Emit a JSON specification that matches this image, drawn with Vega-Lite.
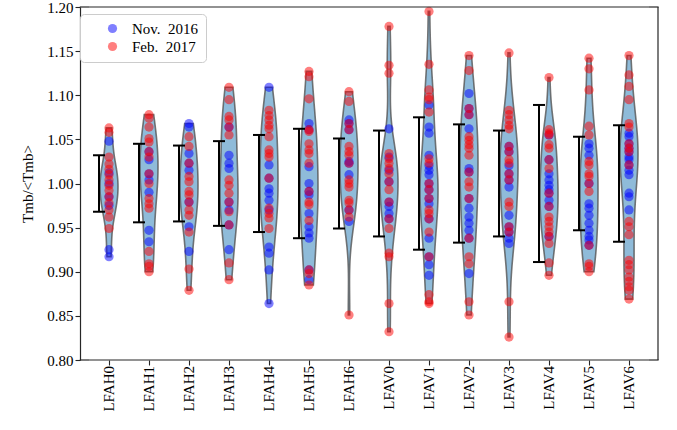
{
  "$schema": "https://vega.github.io/schema/vega-lite/v6.json",
  "padding": {"left": 20, "top": 0, "right": 4, "bottom": 0},
  "config": {
    "font": "Liberation Serif",
    "view": {"stroke": null},
    "axis": {"grid": false, "domainColor": "#262626", "domainWidth": 1.2, "tickColor": "#262626", "tickWidth": 1.1, "tickSize": 5, "labelColor": "#000", "labelFont": "Liberation Serif", "labelFontSize": 15, "titleFont": "Liberation Serif", "titleFontSize": 15, "titleFontWeight": "normal", "titleColor": "#000"},
    "legend": {"orient": "none", "legendX": -9, "legendY": 7, "padding": 7, "symbolOffset": 18, "strokeColor": "#cccccc", "fillColor": "#ffffff", "cornerRadius": 4, "symbolSize": 85, "symbolType": "circle", "labelFont": "Liberation Serif", "labelFontSize": 15, "labelOffset": 12, "rowPadding": 2},
    "header": {"labelFont": "Liberation Serif", "labelFontSize": 15, "labelColor": "#000"}
  },
  "data": {"values": [
    {"c": "LFAH0", "m": "Nov. 2016", "v": 1.048}, {"c": "LFAH0", "m": "Nov. 2016", "v": 1.012}, {"c": "LFAH0", "m": "Nov. 2016", "v": 1.0}, {"c": "LFAH0", "m": "Nov. 2016", "v": 0.985}, {"c": "LFAH0", "m": "Nov. 2016", "v": 0.975}, {"c": "LFAH0", "m": "Nov. 2016", "v": 0.925}, {"c": "LFAH0", "m": "Nov. 2016", "v": 0.917},
    {"c": "LFAH1", "m": "Nov. 2016", "v": 1.036}, {"c": "LFAH1", "m": "Nov. 2016", "v": 1.027}, {"c": "LFAH1", "m": "Nov. 2016", "v": 1.011}, {"c": "LFAH1", "m": "Nov. 2016", "v": 1.004}, {"c": "LFAH1", "m": "Nov. 2016", "v": 0.99}, {"c": "LFAH1", "m": "Nov. 2016", "v": 0.947}, {"c": "LFAH1", "m": "Nov. 2016", "v": 0.934},
    {"c": "LFAH2", "m": "Nov. 2016", "v": 1.068}, {"c": "LFAH2", "m": "Nov. 2016", "v": 1.064}, {"c": "LFAH2", "m": "Nov. 2016", "v": 1.034}, {"c": "LFAH2", "m": "Nov. 2016", "v": 1.023}, {"c": "LFAH2", "m": "Nov. 2016", "v": 1.015}, {"c": "LFAH2", "m": "Nov. 2016", "v": 0.979}, {"c": "LFAH2", "m": "Nov. 2016", "v": 0.951}, {"c": "LFAH2", "m": "Nov. 2016", "v": 0.923},
    {"c": "LFAH3", "m": "Nov. 2016", "v": 1.064}, {"c": "LFAH3", "m": "Nov. 2016", "v": 1.032}, {"c": "LFAH3", "m": "Nov. 2016", "v": 1.023}, {"c": "LFAH3", "m": "Nov. 2016", "v": 1.017}, {"c": "LFAH3", "m": "Nov. 2016", "v": 0.979}, {"c": "LFAH3", "m": "Nov. 2016", "v": 0.97}, {"c": "LFAH3", "m": "Nov. 2016", "v": 0.953}, {"c": "LFAH3", "m": "Nov. 2016", "v": 0.925},
    {"c": "LFAH4", "m": "Nov. 2016", "v": 1.109}, {"c": "LFAH4", "m": "Nov. 2016", "v": 1.021}, {"c": "LFAH4", "m": "Nov. 2016", "v": 1.006}, {"c": "LFAH4", "m": "Nov. 2016", "v": 0.994}, {"c": "LFAH4", "m": "Nov. 2016", "v": 0.989}, {"c": "LFAH4", "m": "Nov. 2016", "v": 0.981}, {"c": "LFAH4", "m": "Nov. 2016", "v": 0.97}, {"c": "LFAH4", "m": "Nov. 2016", "v": 0.928}, {"c": "LFAH4", "m": "Nov. 2016", "v": 0.921}, {"c": "LFAH4", "m": "Nov. 2016", "v": 0.902}, {"c": "LFAH4", "m": "Nov. 2016", "v": 0.864},
    {"c": "LFAH5", "m": "Nov. 2016", "v": 1.068}, {"c": "LFAH5", "m": "Nov. 2016", "v": 1.061}, {"c": "LFAH5", "m": "Nov. 2016", "v": 1.019}, {"c": "LFAH5", "m": "Nov. 2016", "v": 1.0}, {"c": "LFAH5", "m": "Nov. 2016", "v": 0.991}, {"c": "LFAH5", "m": "Nov. 2016", "v": 0.987}, {"c": "LFAH5", "m": "Nov. 2016", "v": 0.966}, {"c": "LFAH5", "m": "Nov. 2016", "v": 0.951}, {"c": "LFAH5", "m": "Nov. 2016", "v": 0.944}, {"c": "LFAH5", "m": "Nov. 2016", "v": 0.938}, {"c": "LFAH5", "m": "Nov. 2016", "v": 0.902}, {"c": "LFAH5", "m": "Nov. 2016", "v": 0.891},
    {"c": "LFAH6", "m": "Nov. 2016", "v": 1.072}, {"c": "LFAH6", "m": "Nov. 2016", "v": 1.068}, {"c": "LFAH6", "m": "Nov. 2016", "v": 1.061}, {"c": "LFAH6", "m": "Nov. 2016", "v": 1.025}, {"c": "LFAH6", "m": "Nov. 2016", "v": 1.023}, {"c": "LFAH6", "m": "Nov. 2016", "v": 1.01}, {"c": "LFAH6", "m": "Nov. 2016", "v": 0.97}, {"c": "LFAH6", "m": "Nov. 2016", "v": 0.957},
    {"c": "LFAV0", "m": "Nov. 2016", "v": 1.062}, {"c": "LFAV0", "m": "Nov. 2016", "v": 1.03}, {"c": "LFAV0", "m": "Nov. 2016", "v": 1.015}, {"c": "LFAV0", "m": "Nov. 2016", "v": 1.002}, {"c": "LFAV0", "m": "Nov. 2016", "v": 0.979}, {"c": "LFAV0", "m": "Nov. 2016", "v": 0.974}, {"c": "LFAV0", "m": "Nov. 2016", "v": 0.966}, {"c": "LFAV0", "m": "Nov. 2016", "v": 0.96},
    {"c": "LFAV1", "m": "Nov. 2016", "v": 1.089}, {"c": "LFAV1", "m": "Nov. 2016", "v": 1.064}, {"c": "LFAV1", "m": "Nov. 2016", "v": 1.057}, {"c": "LFAV1", "m": "Nov. 2016", "v": 1.032}, {"c": "LFAV1", "m": "Nov. 2016", "v": 1.02}, {"c": "LFAV1", "m": "Nov. 2016", "v": 1.015}, {"c": "LFAV1", "m": "Nov. 2016", "v": 1.01}, {"c": "LFAV1", "m": "Nov. 2016", "v": 1.0}, {"c": "LFAV1", "m": "Nov. 2016", "v": 0.993}, {"c": "LFAV1", "m": "Nov. 2016", "v": 0.983}, {"c": "LFAV1", "m": "Nov. 2016", "v": 0.977}, {"c": "LFAV1", "m": "Nov. 2016", "v": 0.96}, {"c": "LFAV1", "m": "Nov. 2016", "v": 0.938}, {"c": "LFAV1", "m": "Nov. 2016", "v": 0.917}, {"c": "LFAV1", "m": "Nov. 2016", "v": 0.908}, {"c": "LFAV1", "m": "Nov. 2016", "v": 0.896},
    {"c": "LFAV2", "m": "Nov. 2016", "v": 1.102}, {"c": "LFAV2", "m": "Nov. 2016", "v": 1.085}, {"c": "LFAV2", "m": "Nov. 2016", "v": 1.078}, {"c": "LFAV2", "m": "Nov. 2016", "v": 1.062}, {"c": "LFAV2", "m": "Nov. 2016", "v": 1.017}, {"c": "LFAV2", "m": "Nov. 2016", "v": 1.013}, {"c": "LFAV2", "m": "Nov. 2016", "v": 0.983}, {"c": "LFAV2", "m": "Nov. 2016", "v": 0.972}, {"c": "LFAV2", "m": "Nov. 2016", "v": 0.962}, {"c": "LFAV2", "m": "Nov. 2016", "v": 0.955}, {"c": "LFAV2", "m": "Nov. 2016", "v": 0.947}, {"c": "LFAV2", "m": "Nov. 2016", "v": 0.938}, {"c": "LFAV2", "m": "Nov. 2016", "v": 0.898},
    {"c": "LFAV3", "m": "Nov. 2016", "v": 1.042}, {"c": "LFAV3", "m": "Nov. 2016", "v": 1.036}, {"c": "LFAV3", "m": "Nov. 2016", "v": 1.02}, {"c": "LFAV3", "m": "Nov. 2016", "v": 1.011}, {"c": "LFAV3", "m": "Nov. 2016", "v": 1.004}, {"c": "LFAV3", "m": "Nov. 2016", "v": 0.996}, {"c": "LFAV3", "m": "Nov. 2016", "v": 0.964}, {"c": "LFAV3", "m": "Nov. 2016", "v": 0.951}, {"c": "LFAV3", "m": "Nov. 2016", "v": 0.945}, {"c": "LFAV3", "m": "Nov. 2016", "v": 0.938}, {"c": "LFAV3", "m": "Nov. 2016", "v": 0.932},
    {"c": "LFAV4", "m": "Nov. 2016", "v": 1.055}, {"c": "LFAV4", "m": "Nov. 2016", "v": 1.027}, {"c": "LFAV4", "m": "Nov. 2016", "v": 1.011}, {"c": "LFAV4", "m": "Nov. 2016", "v": 1.004}, {"c": "LFAV4", "m": "Nov. 2016", "v": 0.998}, {"c": "LFAV4", "m": "Nov. 2016", "v": 0.993}, {"c": "LFAV4", "m": "Nov. 2016", "v": 0.989}, {"c": "LFAV4", "m": "Nov. 2016", "v": 0.981}, {"c": "LFAV4", "m": "Nov. 2016", "v": 0.974}, {"c": "LFAV4", "m": "Nov. 2016", "v": 0.94},
    {"c": "LFAV5", "m": "Nov. 2016", "v": 1.045}, {"c": "LFAV5", "m": "Nov. 2016", "v": 1.04}, {"c": "LFAV5", "m": "Nov. 2016", "v": 1.032}, {"c": "LFAV5", "m": "Nov. 2016", "v": 1.0}, {"c": "LFAV5", "m": "Nov. 2016", "v": 0.977}, {"c": "LFAV5", "m": "Nov. 2016", "v": 0.972}, {"c": "LFAV5", "m": "Nov. 2016", "v": 0.964}, {"c": "LFAV5", "m": "Nov. 2016", "v": 0.955}, {"c": "LFAV5", "m": "Nov. 2016", "v": 0.947}, {"c": "LFAV5", "m": "Nov. 2016", "v": 0.94}, {"c": "LFAV5", "m": "Nov. 2016", "v": 0.936}, {"c": "LFAV5", "m": "Nov. 2016", "v": 0.93},
    {"c": "LFAV6", "m": "Nov. 2016", "v": 1.057}, {"c": "LFAV6", "m": "Nov. 2016", "v": 1.053}, {"c": "LFAV6", "m": "Nov. 2016", "v": 1.045}, {"c": "LFAV6", "m": "Nov. 2016", "v": 1.04}, {"c": "LFAV6", "m": "Nov. 2016", "v": 1.036}, {"c": "LFAV6", "m": "Nov. 2016", "v": 1.03}, {"c": "LFAV6", "m": "Nov. 2016", "v": 1.027}, {"c": "LFAV6", "m": "Nov. 2016", "v": 1.021}, {"c": "LFAV6", "m": "Nov. 2016", "v": 1.015}, {"c": "LFAV6", "m": "Nov. 2016", "v": 1.01}, {"c": "LFAV6", "m": "Nov. 2016", "v": 0.989}, {"c": "LFAV6", "m": "Nov. 2016", "v": 0.985}, {"c": "LFAV6", "m": "Nov. 2016", "v": 0.97},
    {"c": "LFAH0", "m": "Feb. 2017", "v": 1.063}, {"c": "LFAH0", "m": "Feb. 2017", "v": 1.058}, {"c": "LFAH0", "m": "Feb. 2017", "v": 1.03}, {"c": "LFAH0", "m": "Feb. 2017", "v": 1.022}, {"c": "LFAH0", "m": "Feb. 2017", "v": 1.016}, {"c": "LFAH0", "m": "Feb. 2017", "v": 1.01}, {"c": "LFAH0", "m": "Feb. 2017", "v": 1.004}, {"c": "LFAH0", "m": "Feb. 2017", "v": 0.998}, {"c": "LFAH0", "m": "Feb. 2017", "v": 0.992}, {"c": "LFAH0", "m": "Feb. 2017", "v": 0.985}, {"c": "LFAH0", "m": "Feb. 2017", "v": 0.978}, {"c": "LFAH0", "m": "Feb. 2017", "v": 0.97}, {"c": "LFAH0", "m": "Feb. 2017", "v": 0.962}, {"c": "LFAH0", "m": "Feb. 2017", "v": 0.949},
    {"c": "LFAH1", "m": "Feb. 2017", "v": 1.078}, {"c": "LFAH1", "m": "Feb. 2017", "v": 1.074}, {"c": "LFAH1", "m": "Feb. 2017", "v": 1.064}, {"c": "LFAH1", "m": "Feb. 2017", "v": 1.051}, {"c": "LFAH1", "m": "Feb. 2017", "v": 1.047}, {"c": "LFAH1", "m": "Feb. 2017", "v": 1.036}, {"c": "LFAH1", "m": "Feb. 2017", "v": 1.03}, {"c": "LFAH1", "m": "Feb. 2017", "v": 1.011}, {"c": "LFAH1", "m": "Feb. 2017", "v": 1.0}, {"c": "LFAH1", "m": "Feb. 2017", "v": 0.983}, {"c": "LFAH1", "m": "Feb. 2017", "v": 0.977}, {"c": "LFAH1", "m": "Feb. 2017", "v": 0.972}, {"c": "LFAH1", "m": "Feb. 2017", "v": 0.923}, {"c": "LFAH1", "m": "Feb. 2017", "v": 0.909}, {"c": "LFAH1", "m": "Feb. 2017", "v": 0.906}, {"c": "LFAH1", "m": "Feb. 2017", "v": 0.9},
    {"c": "LFAH2", "m": "Feb. 2017", "v": 1.053}, {"c": "LFAH2", "m": "Feb. 2017", "v": 1.042}, {"c": "LFAH2", "m": "Feb. 2017", "v": 1.023}, {"c": "LFAH2", "m": "Feb. 2017", "v": 1.008}, {"c": "LFAH2", "m": "Feb. 2017", "v": 1.002}, {"c": "LFAH2", "m": "Feb. 2017", "v": 0.991}, {"c": "LFAH2", "m": "Feb. 2017", "v": 0.987}, {"c": "LFAH2", "m": "Feb. 2017", "v": 0.979}, {"c": "LFAH2", "m": "Feb. 2017", "v": 0.97}, {"c": "LFAH2", "m": "Feb. 2017", "v": 0.964}, {"c": "LFAH2", "m": "Feb. 2017", "v": 0.945}, {"c": "LFAH2", "m": "Feb. 2017", "v": 0.903}, {"c": "LFAH2", "m": "Feb. 2017", "v": 0.879},
    {"c": "LFAH3", "m": "Feb. 2017", "v": 1.109}, {"c": "LFAH3", "m": "Feb. 2017", "v": 1.095}, {"c": "LFAH3", "m": "Feb. 2017", "v": 1.076}, {"c": "LFAH3", "m": "Feb. 2017", "v": 1.072}, {"c": "LFAH3", "m": "Feb. 2017", "v": 1.064}, {"c": "LFAH3", "m": "Feb. 2017", "v": 1.055}, {"c": "LFAH3", "m": "Feb. 2017", "v": 1.004}, {"c": "LFAH3", "m": "Feb. 2017", "v": 0.998}, {"c": "LFAH3", "m": "Feb. 2017", "v": 0.989}, {"c": "LFAH3", "m": "Feb. 2017", "v": 0.979}, {"c": "LFAH3", "m": "Feb. 2017", "v": 0.968}, {"c": "LFAH3", "m": "Feb. 2017", "v": 0.953}, {"c": "LFAH3", "m": "Feb. 2017", "v": 0.91}, {"c": "LFAH3", "m": "Feb. 2017", "v": 0.891},
    {"c": "LFAH4", "m": "Feb. 2017", "v": 1.083}, {"c": "LFAH4", "m": "Feb. 2017", "v": 1.077}, {"c": "LFAH4", "m": "Feb. 2017", "v": 1.072}, {"c": "LFAH4", "m": "Feb. 2017", "v": 1.066}, {"c": "LFAH4", "m": "Feb. 2017", "v": 1.062}, {"c": "LFAH4", "m": "Feb. 2017", "v": 1.053}, {"c": "LFAH4", "m": "Feb. 2017", "v": 1.038}, {"c": "LFAH4", "m": "Feb. 2017", "v": 1.034}, {"c": "LFAH4", "m": "Feb. 2017", "v": 1.03}, {"c": "LFAH4", "m": "Feb. 2017", "v": 1.006}, {"c": "LFAH4", "m": "Feb. 2017", "v": 0.972}, {"c": "LFAH4", "m": "Feb. 2017", "v": 0.966}, {"c": "LFAH4", "m": "Feb. 2017", "v": 0.961}, {"c": "LFAH4", "m": "Feb. 2017", "v": 0.949},
    {"c": "LFAH5", "m": "Feb. 2017", "v": 1.127}, {"c": "LFAH5", "m": "Feb. 2017", "v": 1.121}, {"c": "LFAH5", "m": "Feb. 2017", "v": 1.096}, {"c": "LFAH5", "m": "Feb. 2017", "v": 1.061}, {"c": "LFAH5", "m": "Feb. 2017", "v": 1.059}, {"c": "LFAH5", "m": "Feb. 2017", "v": 1.045}, {"c": "LFAH5", "m": "Feb. 2017", "v": 1.038}, {"c": "LFAH5", "m": "Feb. 2017", "v": 1.034}, {"c": "LFAH5", "m": "Feb. 2017", "v": 1.023}, {"c": "LFAH5", "m": "Feb. 2017", "v": 0.991}, {"c": "LFAH5", "m": "Feb. 2017", "v": 0.979}, {"c": "LFAH5", "m": "Feb. 2017", "v": 0.976}, {"c": "LFAH5", "m": "Feb. 2017", "v": 0.958}, {"c": "LFAH5", "m": "Feb. 2017", "v": 0.902}, {"c": "LFAH5", "m": "Feb. 2017", "v": 0.898}, {"c": "LFAH5", "m": "Feb. 2017", "v": 0.885},
    {"c": "LFAH6", "m": "Feb. 2017", "v": 1.104}, {"c": "LFAH6", "m": "Feb. 2017", "v": 1.093}, {"c": "LFAH6", "m": "Feb. 2017", "v": 1.068}, {"c": "LFAH6", "m": "Feb. 2017", "v": 1.061}, {"c": "LFAH6", "m": "Feb. 2017", "v": 1.042}, {"c": "LFAH6", "m": "Feb. 2017", "v": 1.036}, {"c": "LFAH6", "m": "Feb. 2017", "v": 1.032}, {"c": "LFAH6", "m": "Feb. 2017", "v": 1.023}, {"c": "LFAH6", "m": "Feb. 2017", "v": 1.004}, {"c": "LFAH6", "m": "Feb. 2017", "v": 1.0}, {"c": "LFAH6", "m": "Feb. 2017", "v": 0.996}, {"c": "LFAH6", "m": "Feb. 2017", "v": 0.981}, {"c": "LFAH6", "m": "Feb. 2017", "v": 0.978}, {"c": "LFAH6", "m": "Feb. 2017", "v": 0.97}, {"c": "LFAH6", "m": "Feb. 2017", "v": 0.962}, {"c": "LFAH6", "m": "Feb. 2017", "v": 0.851},
    {"c": "LFAV0", "m": "Feb. 2017", "v": 1.178}, {"c": "LFAV0", "m": "Feb. 2017", "v": 1.134}, {"c": "LFAV0", "m": "Feb. 2017", "v": 1.125}, {"c": "LFAV0", "m": "Feb. 2017", "v": 1.034}, {"c": "LFAV0", "m": "Feb. 2017", "v": 1.028}, {"c": "LFAV0", "m": "Feb. 2017", "v": 1.023}, {"c": "LFAV0", "m": "Feb. 2017", "v": 1.017}, {"c": "LFAV0", "m": "Feb. 2017", "v": 1.011}, {"c": "LFAV0", "m": "Feb. 2017", "v": 1.002}, {"c": "LFAV0", "m": "Feb. 2017", "v": 0.993}, {"c": "LFAV0", "m": "Feb. 2017", "v": 0.979}, {"c": "LFAV0", "m": "Feb. 2017", "v": 0.96}, {"c": "LFAV0", "m": "Feb. 2017", "v": 0.949}, {"c": "LFAV0", "m": "Feb. 2017", "v": 0.921}, {"c": "LFAV0", "m": "Feb. 2017", "v": 0.917}, {"c": "LFAV0", "m": "Feb. 2017", "v": 0.864}, {"c": "LFAV0", "m": "Feb. 2017", "v": 0.832},
    {"c": "LFAV1", "m": "Feb. 2017", "v": 1.195}, {"c": "LFAV1", "m": "Feb. 2017", "v": 1.135}, {"c": "LFAV1", "m": "Feb. 2017", "v": 1.106}, {"c": "LFAV1", "m": "Feb. 2017", "v": 1.098}, {"c": "LFAV1", "m": "Feb. 2017", "v": 1.095}, {"c": "LFAV1", "m": "Feb. 2017", "v": 1.081}, {"c": "LFAV1", "m": "Feb. 2017", "v": 1.028}, {"c": "LFAV1", "m": "Feb. 2017", "v": 1.023}, {"c": "LFAV1", "m": "Feb. 2017", "v": 1.0}, {"c": "LFAV1", "m": "Feb. 2017", "v": 0.993}, {"c": "LFAV1", "m": "Feb. 2017", "v": 0.983}, {"c": "LFAV1", "m": "Feb. 2017", "v": 0.97}, {"c": "LFAV1", "m": "Feb. 2017", "v": 0.966}, {"c": "LFAV1", "m": "Feb. 2017", "v": 0.96}, {"c": "LFAV1", "m": "Feb. 2017", "v": 0.945}, {"c": "LFAV1", "m": "Feb. 2017", "v": 0.917}, {"c": "LFAV1", "m": "Feb. 2017", "v": 0.874}, {"c": "LFAV1", "m": "Feb. 2017", "v": 0.866}, {"c": "LFAV1", "m": "Feb. 2017", "v": 0.864},
    {"c": "LFAV2", "m": "Feb. 2017", "v": 1.145}, {"c": "LFAV2", "m": "Feb. 2017", "v": 1.128}, {"c": "LFAV2", "m": "Feb. 2017", "v": 1.085}, {"c": "LFAV2", "m": "Feb. 2017", "v": 1.078}, {"c": "LFAV2", "m": "Feb. 2017", "v": 1.053}, {"c": "LFAV2", "m": "Feb. 2017", "v": 1.049}, {"c": "LFAV2", "m": "Feb. 2017", "v": 1.044}, {"c": "LFAV2", "m": "Feb. 2017", "v": 1.04}, {"c": "LFAV2", "m": "Feb. 2017", "v": 1.032}, {"c": "LFAV2", "m": "Feb. 2017", "v": 1.013}, {"c": "LFAV2", "m": "Feb. 2017", "v": 1.002}, {"c": "LFAV2", "m": "Feb. 2017", "v": 0.996}, {"c": "LFAV2", "m": "Feb. 2017", "v": 0.983}, {"c": "LFAV2", "m": "Feb. 2017", "v": 0.938}, {"c": "LFAV2", "m": "Feb. 2017", "v": 0.917}, {"c": "LFAV2", "m": "Feb. 2017", "v": 0.909}, {"c": "LFAV2", "m": "Feb. 2017", "v": 0.866}, {"c": "LFAV2", "m": "Feb. 2017", "v": 0.851},
    {"c": "LFAV3", "m": "Feb. 2017", "v": 1.148}, {"c": "LFAV3", "m": "Feb. 2017", "v": 1.083}, {"c": "LFAV3", "m": "Feb. 2017", "v": 1.078}, {"c": "LFAV3", "m": "Feb. 2017", "v": 1.072}, {"c": "LFAV3", "m": "Feb. 2017", "v": 1.066}, {"c": "LFAV3", "m": "Feb. 2017", "v": 1.062}, {"c": "LFAV3", "m": "Feb. 2017", "v": 1.042}, {"c": "LFAV3", "m": "Feb. 2017", "v": 1.036}, {"c": "LFAV3", "m": "Feb. 2017", "v": 1.027}, {"c": "LFAV3", "m": "Feb. 2017", "v": 1.023}, {"c": "LFAV3", "m": "Feb. 2017", "v": 1.011}, {"c": "LFAV3", "m": "Feb. 2017", "v": 1.004}, {"c": "LFAV3", "m": "Feb. 2017", "v": 0.979}, {"c": "LFAV3", "m": "Feb. 2017", "v": 0.974}, {"c": "LFAV3", "m": "Feb. 2017", "v": 0.951}, {"c": "LFAV3", "m": "Feb. 2017", "v": 0.945}, {"c": "LFAV3", "m": "Feb. 2017", "v": 0.866}, {"c": "LFAV3", "m": "Feb. 2017", "v": 0.826},
    {"c": "LFAV4", "m": "Feb. 2017", "v": 1.12}, {"c": "LFAV4", "m": "Feb. 2017", "v": 1.061}, {"c": "LFAV4", "m": "Feb. 2017", "v": 1.057}, {"c": "LFAV4", "m": "Feb. 2017", "v": 1.055}, {"c": "LFAV4", "m": "Feb. 2017", "v": 1.044}, {"c": "LFAV4", "m": "Feb. 2017", "v": 1.04}, {"c": "LFAV4", "m": "Feb. 2017", "v": 1.027}, {"c": "LFAV4", "m": "Feb. 2017", "v": 1.017}, {"c": "LFAV4", "m": "Feb. 2017", "v": 0.989}, {"c": "LFAV4", "m": "Feb. 2017", "v": 0.974}, {"c": "LFAV4", "m": "Feb. 2017", "v": 0.962}, {"c": "LFAV4", "m": "Feb. 2017", "v": 0.957}, {"c": "LFAV4", "m": "Feb. 2017", "v": 0.951}, {"c": "LFAV4", "m": "Feb. 2017", "v": 0.945}, {"c": "LFAV4", "m": "Feb. 2017", "v": 0.94}, {"c": "LFAV4", "m": "Feb. 2017", "v": 0.932}, {"c": "LFAV4", "m": "Feb. 2017", "v": 0.91}, {"c": "LFAV4", "m": "Feb. 2017", "v": 0.896},
    {"c": "LFAV5", "m": "Feb. 2017", "v": 1.142}, {"c": "LFAV5", "m": "Feb. 2017", "v": 1.13}, {"c": "LFAV5", "m": "Feb. 2017", "v": 1.106}, {"c": "LFAV5", "m": "Feb. 2017", "v": 1.065}, {"c": "LFAV5", "m": "Feb. 2017", "v": 1.055}, {"c": "LFAV5", "m": "Feb. 2017", "v": 1.025}, {"c": "LFAV5", "m": "Feb. 2017", "v": 1.021}, {"c": "LFAV5", "m": "Feb. 2017", "v": 1.011}, {"c": "LFAV5", "m": "Feb. 2017", "v": 1.008}, {"c": "LFAV5", "m": "Feb. 2017", "v": 1.0}, {"c": "LFAV5", "m": "Feb. 2017", "v": 0.991}, {"c": "LFAV5", "m": "Feb. 2017", "v": 0.93}, {"c": "LFAV5", "m": "Feb. 2017", "v": 0.909}, {"c": "LFAV5", "m": "Feb. 2017", "v": 0.906}, {"c": "LFAV5", "m": "Feb. 2017", "v": 0.9},
    {"c": "LFAV6", "m": "Feb. 2017", "v": 1.145}, {"c": "LFAV6", "m": "Feb. 2017", "v": 1.123}, {"c": "LFAV6", "m": "Feb. 2017", "v": 1.11}, {"c": "LFAV6", "m": "Feb. 2017", "v": 1.095}, {"c": "LFAV6", "m": "Feb. 2017", "v": 1.068}, {"c": "LFAV6", "m": "Feb. 2017", "v": 1.064}, {"c": "LFAV6", "m": "Feb. 2017", "v": 1.045}, {"c": "LFAV6", "m": "Feb. 2017", "v": 1.04}, {"c": "LFAV6", "m": "Feb. 2017", "v": 1.036}, {"c": "LFAV6", "m": "Feb. 2017", "v": 1.021}, {"c": "LFAV6", "m": "Feb. 2017", "v": 0.957}, {"c": "LFAV6", "m": "Feb. 2017", "v": 0.951}, {"c": "LFAV6", "m": "Feb. 2017", "v": 0.942}, {"c": "LFAV6", "m": "Feb. 2017", "v": 0.913}, {"c": "LFAV6", "m": "Feb. 2017", "v": 0.908}, {"c": "LFAV6", "m": "Feb. 2017", "v": 0.902}, {"c": "LFAV6", "m": "Feb. 2017", "v": 0.894}, {"c": "LFAV6", "m": "Feb. 2017", "v": 0.889}, {"c": "LFAV6", "m": "Feb. 2017", "v": 0.883}, {"c": "LFAV6", "m": "Feb. 2017", "v": 0.879}, {"c": "LFAV6", "m": "Feb. 2017", "v": 0.869},
    {"c": "LFAH0", "lo": 0.968, "hi": 1.032}, {"c": "LFAH1", "lo": 0.956, "hi": 1.045}, {"c": "LFAH2", "lo": 0.957, "hi": 1.043}, {"c": "LFAH3", "lo": 0.952, "hi": 1.048}, {"c": "LFAH4", "lo": 0.945, "hi": 1.055}, {"c": "LFAH5", "lo": 0.938, "hi": 1.062}, {"c": "LFAH6", "lo": 0.949, "hi": 1.051},
    {"c": "LFAV0", "lo": 0.94, "hi": 1.06}, {"c": "LFAV1", "lo": 0.925, "hi": 1.075}, {"c": "LFAV2", "lo": 0.933, "hi": 1.067}, {"c": "LFAV3", "lo": 0.94, "hi": 1.06}, {"c": "LFAV4", "lo": 0.911, "hi": 1.089}, {"c": "LFAV5", "lo": 0.947, "hi": 1.053}, {"c": "LFAV6", "lo": 0.934, "hi": 1.066}
  ]},
  "facet": {
    "column": {"field": "c", "type": "nominal", "title": null, "sort": "ascending",
      "header": {"labelOrient": "bottom", "labelAngle": -90, "labelAlign": "right", "labelBaseline": "middle", "labelPadding": 6}}
  },
  "spacing": 0,
  "bounds": "flush",
  "resolve": {"scale": {"x": "independent"}},
  "spec": {
    "width": 40,
    "height": 353,
    "resolve": {"scale": {"x": "independent"}},
    "layer": [
      {
        "transform": [
          {"filter": "isValid(datum.v)"},
          {"density": "v", "groupby": ["c"], "as": ["v", "density"]}
        ],
        "mark": {"type": "area", "orient": "horizontal", "fill": "#1f77b4", "fillOpacity": 0.5, "stroke": "#555555", "strokeOpacity": 0.8, "strokeWidth": 1.6},
        "encoding": {
          "y": {"field": "v", "type": "quantitative", "title": "Tmb/<Tmb>", "scale": {"domain": [0.8, 1.2], "nice": false, "zero": false},
            "axis": {"values": [0.8, 0.85, 0.9, 0.95, 1.0, 1.05, 1.1, 1.15, 1.2], "format": ".2f", "titlePadding": 11, "offset": 9}},
          "x": {"field": "density", "type": "quantitative", "stack": "center", "scale": {"zero": false, "nice": false, "padding": 11}, "axis": null}
        }
      },
      {
        "transform": [{"filter": "isValid(datum.v)"}],
        "mark": {"type": "circle", "size": 85, "opacity": 0.5},
        "encoding": {
          "y": {"field": "v", "type": "quantitative", "title": "Tmb/<Tmb>", "scale": {"domain": [0.8, 1.2], "nice": false, "zero": false},
            "axis": {"values": [0.8, 0.85, 0.9, 0.95, 1.0, 1.05, 1.1, 1.15, 1.2], "format": ".2f", "titlePadding": 11, "offset": 9}},
          "x": {"datum": 0, "type": "quantitative", "scale": {"domain": [-0.5, 0.5], "nice": false, "zero": false},
            "axis": {"orient": "bottom", "values": [0], "labels": false, "title": null, "domain": false, "ticks": true}},
          "color": {"field": "m", "type": "nominal", "scale": {"domain": ["Nov. 2016", "Feb. 2017"], "range": ["#0000ff", "#ff0000"]},
            "legend": {"title": null, "labelExpr": "replace(datum.label, '. ', '.\u00a0 ')"}}
        }
      },
      {
        "transform": [{"filter": "isValid(datum.lo)"}],
        "mark": {"type": "rule", "color": "#000000", "strokeWidth": 2},
        "encoding": {
          "x": {"datum": -0.25, "type": "quantitative", "scale": {"domain": [-0.5, 0.5], "nice": false, "zero": false}, "axis": null},
          "y": {"field": "lo", "type": "quantitative", "title": "Tmb/<Tmb>", "scale": {"domain": [0.8, 1.2], "nice": false, "zero": false},
            "axis": {"values": [0.8, 0.85, 0.9, 0.95, 1.0, 1.05, 1.1, 1.15, 1.2], "format": ".2f", "titlePadding": 11, "offset": 9}},
          "y2": {"field": "hi"}
        }
      },
      {
        "transform": [{"filter": "isValid(datum.lo)"}],
        "mark": {"type": "tick", "orient": "horizontal", "color": "#000000", "size": 12, "thickness": 2, "opacity": 1},
        "encoding": {
          "x": {"datum": -0.25, "type": "quantitative", "scale": {"domain": [-0.5, 0.5], "nice": false, "zero": false}, "axis": null},
          "y": {"field": "lo", "type": "quantitative", "title": "Tmb/<Tmb>", "scale": {"domain": [0.8, 1.2], "nice": false, "zero": false},
            "axis": {"values": [0.8, 0.85, 0.9, 0.95, 1.0, 1.05, 1.1, 1.15, 1.2], "format": ".2f", "titlePadding": 11, "offset": 9}}
        }
      },
      {
        "transform": [{"filter": "isValid(datum.hi)"}],
        "mark": {"type": "tick", "orient": "horizontal", "color": "#000000", "size": 12, "thickness": 2, "opacity": 1},
        "encoding": {
          "x": {"datum": -0.25, "type": "quantitative", "scale": {"domain": [-0.5, 0.5], "nice": false, "zero": false}, "axis": null},
          "y": {"field": "hi", "type": "quantitative", "title": "Tmb/<Tmb>", "scale": {"domain": [0.8, 1.2], "nice": false, "zero": false},
            "axis": {"values": [0.8, 0.85, 0.9, 0.95, 1.0, 1.05, 1.1, 1.15, 1.2], "format": ".2f", "titlePadding": 11, "offset": 9}}
        }
      },
      {
        "transform": [{"filter": "isValid(datum.lo)"}],
        "mark": {"type": "rule", "color": "#262626", "strokeWidth": 1.2},
        "encoding": {
          "x": {"datum": -0.5, "type": "quantitative", "scale": {"domain": [-0.5, 0.5], "nice": false, "zero": false}, "axis": null},
          "x2": {"datum": 0.5},
          "y": {"datum": 1.2, "type": "quantitative", "title": "Tmb/<Tmb>", "scale": {"domain": [0.8, 1.2], "nice": false, "zero": false},
            "axis": {"values": [0.8, 0.85, 0.9, 0.95, 1.0, 1.05, 1.1, 1.15, 1.2], "format": ".2f", "titlePadding": 11, "offset": 9}}
        }
      },
      {
        "transform": [{"filter": "isValid(datum.lo)"}],
        "mark": {"type": "rule", "color": "#262626", "strokeWidth": 1.2},
        "encoding": {
          "x": {"datum": -0.5, "type": "quantitative", "scale": {"domain": [-0.5, 0.5], "nice": false, "zero": false}, "axis": null},
          "x2": {"datum": 0.5},
          "y": {"datum": 0.8, "type": "quantitative", "title": "Tmb/<Tmb>", "scale": {"domain": [0.8, 1.2], "nice": false, "zero": false},
            "axis": {"values": [0.8, 0.85, 0.9, 0.95, 1.0, 1.05, 1.1, 1.15, 1.2], "format": ".2f", "titlePadding": 11, "offset": 9}}
        }
      },
      {
        "transform": [{"filter": "datum.c === 'LFAH0' && isValid(datum.lo)"}],
        "mark": {"type": "rule", "color": "#262626", "strokeWidth": 1.2},
        "encoding": {
          "x": {"datum": -0.73, "type": "quantitative", "scale": {"domain": [-0.5, 0.5], "nice": false, "zero": false}, "axis": null},
          "x2": {"datum": -0.5},
          "y": {"datum": 1.2, "type": "quantitative", "title": "Tmb/<Tmb>", "scale": {"domain": [0.8, 1.2], "nice": false, "zero": false},
            "axis": {"values": [0.8, 0.85, 0.9, 0.95, 1.0, 1.05, 1.1, 1.15, 1.2], "format": ".2f", "titlePadding": 11, "offset": 9}}
        }
      },
      {
        "transform": [{"filter": "datum.c === 'LFAH0' && isValid(datum.lo)"}],
        "mark": {"type": "rule", "color": "#262626", "strokeWidth": 1.2},
        "encoding": {
          "x": {"datum": -0.73, "type": "quantitative", "scale": {"domain": [-0.5, 0.5], "nice": false, "zero": false}, "axis": null},
          "x2": {"datum": -0.5},
          "y": {"datum": 0.8, "type": "quantitative", "title": "Tmb/<Tmb>", "scale": {"domain": [0.8, 1.2], "nice": false, "zero": false},
            "axis": {"values": [0.8, 0.85, 0.9, 0.95, 1.0, 1.05, 1.1, 1.15, 1.2], "format": ".2f", "titlePadding": 11, "offset": 9}}
        }
      },
      {
        "transform": [{"filter": "datum.c === 'LFAV6' && isValid(datum.lo)"}],
        "mark": {"type": "rule", "color": "#262626", "strokeWidth": 1.2},
        "encoding": {
          "x": {"datum": 0.5, "type": "quantitative", "scale": {"domain": [-0.5, 0.5], "nice": false, "zero": false}, "axis": null},
          "x2": {"datum": 0.74},
          "y": {"datum": 1.2, "type": "quantitative", "title": "Tmb/<Tmb>", "scale": {"domain": [0.8, 1.2], "nice": false, "zero": false},
            "axis": {"values": [0.8, 0.85, 0.9, 0.95, 1.0, 1.05, 1.1, 1.15, 1.2], "format": ".2f", "titlePadding": 11, "offset": 9}}
        }
      },
      {
        "transform": [{"filter": "datum.c === 'LFAV6' && isValid(datum.lo)"}],
        "mark": {"type": "rule", "color": "#262626", "strokeWidth": 1.2},
        "encoding": {
          "x": {"datum": 0.5, "type": "quantitative", "scale": {"domain": [-0.5, 0.5], "nice": false, "zero": false}, "axis": null},
          "x2": {"datum": 0.74},
          "y": {"datum": 0.8, "type": "quantitative", "title": "Tmb/<Tmb>", "scale": {"domain": [0.8, 1.2], "nice": false, "zero": false},
            "axis": {"values": [0.8, 0.85, 0.9, 0.95, 1.0, 1.05, 1.1, 1.15, 1.2], "format": ".2f", "titlePadding": 11, "offset": 9}}
        }
      },
      {
        "transform": [{"filter": "datum.c === 'LFAV6' && isValid(datum.lo)"}],
        "mark": {"type": "rule", "color": "#262626", "strokeWidth": 1.2},
        "encoding": {
          "x": {"datum": 0.725, "type": "quantitative", "scale": {"domain": [-0.5, 0.5], "nice": false, "zero": false}, "axis": null},
          "y": {"datum": 0.8, "type": "quantitative", "title": "Tmb/<Tmb>", "scale": {"domain": [0.8, 1.2], "nice": false, "zero": false},
            "axis": {"values": [0.8, 0.85, 0.9, 0.95, 1.0, 1.05, 1.1, 1.15, 1.2], "format": ".2f", "titlePadding": 11, "offset": 9}},
          "y2": {"datum": 1.2}
        }
      }
    ]
  }
}
